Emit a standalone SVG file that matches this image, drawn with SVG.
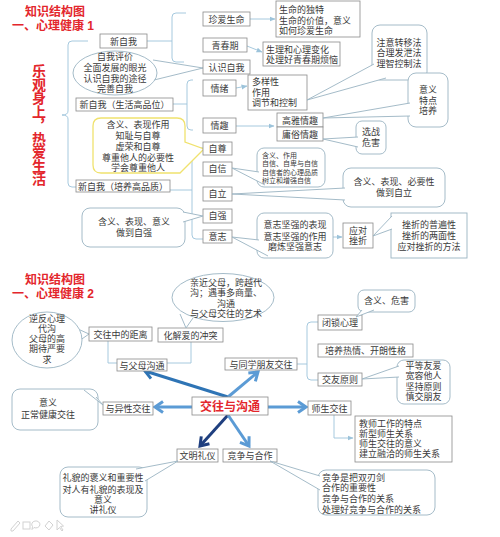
<svg xmlns="http://www.w3.org/2000/svg" width="500" height="537" viewBox="0 0 500 537">
<style>
.bg{fill:#fff}
.box{fill:#fff;stroke:#8a8a8a;stroke-width:0.8}
.call{fill:#fff;stroke:#9ab3c2;stroke-width:0.9}
.tail{fill:#fff;stroke:#9ab3c2;stroke-width:0.9;stroke-linejoin:round}
.ln{fill:none;stroke:#9cc3da;stroke-width:0.9}
.t{font-family:"Liberation Sans","Noto Sans CJK SC",sans-serif;font-size:9px;fill:#3a3a3a;text-anchor:middle}
.l{text-anchor:start}
.s7{font-size:7px}
.ttl{font-family:"Liberation Sans","Noto Sans CJK SC",sans-serif;font-size:12px;font-weight:bold;fill:#e3262c}
.big{font-family:"Noto Sans CJK SC","Noto Sans",sans-serif;font-size:14px;font-weight:bold;fill:#e3262c;writing-mode:vertical-rl;letter-spacing:-0.5px}
.ctr{font-family:"Liberation Sans","Noto Sans CJK SC",sans-serif;font-size:12px;font-weight:bold;fill:#e3262c;text-anchor:middle}
.ar1{fill:none;stroke:#2e74b5;stroke-width:3}
.ar2{fill:none;stroke:#5b9bd5;stroke-width:3}
.ar3{fill:none;stroke:#1f3f7f;stroke-width:3}
.ico{fill:none;stroke:#d2d2d2;stroke-width:1}
</style>
<defs>
<marker id="sm" markerUnits="userSpaceOnUse" markerWidth="6" markerHeight="6" viewBox="0 0 6 6" refX="5.5" refY="3" orient="auto"><path d="M0,0.5 L6,3 L0,5.5 Z" fill="#9cc3da"/></marker>
<marker id="m1" markerUnits="userSpaceOnUse" markerWidth="14" markerHeight="14" viewBox="0 0 14 14" refX="11" refY="7" orient="auto"><path d="M3,1.5 L11,7 L3,12.5" fill="none" stroke="#2e74b5" stroke-width="3"/></marker>
<marker id="m2" markerUnits="userSpaceOnUse" markerWidth="14" markerHeight="14" viewBox="0 0 14 14" refX="11" refY="7" orient="auto"><path d="M3,1.5 L11,7 L3,12.5" fill="none" stroke="#5b9bd5" stroke-width="3"/></marker>
<marker id="m3" markerUnits="userSpaceOnUse" markerWidth="14" markerHeight="14" viewBox="0 0 14 14" refX="11" refY="7" orient="auto"><path d="M3,1.5 L11,7 L3,12.5" fill="none" stroke="#1f3f7f" stroke-width="3"/></marker>
</defs>
<rect class="bg" x="0" y="0" width="500" height="537"/>

<!-- ===== Section 1 ===== -->
<g id="title1">
<text class="ttl" x="25" y="16">知识结构图</text>
<text class="ttl" x="12" y="30">一、心理健康 1</text>
</g>
<g id="theme1">
<text class="big" x="39" y="64">乐观身上，热爱生活</text>
</g>

<g id="connectors1">
<path class="ln" d="M88,41 H72 Q68,41 68,45 V111 Q68,115 62,115 Q68,115 68,119 V183 Q68,187 72,187 H76"/>
<path class="ln" d="M147,41 H172 M186,13 H176 Q172,13 172,17 V58 Q172,62 176,62 H184"/>
<path class="ln" d="M173,104 H187 M193,80 H191 Q187,80 187,84 V126 Q187,130 191,130 H193"/>
<path class="ln" d="M170,190 H192 M203,148 H196 Q192,148 192,152 V235 Q192,239 196,239 H203"/>
<line class="ln" x1="250" y1="19" x2="275" y2="19" marker-end="url(#sm)"/>
<line class="ln" x1="247" y1="46" x2="262" y2="52" marker-end="url(#sm)"/>
<line class="ln" x1="236" y1="88" x2="247" y2="86" marker-end="url(#sm)"/>
<line class="ln" x1="236" y1="126" x2="274" y2="126" marker-end="url(#sm)"/>
<line class="ln" x1="333" y1="237" x2="342" y2="237" marker-end="url(#sm)"/>
</g>

<g id="n_xinziwo"><rect class="box" x="100" y="34" width="47" height="14"/><text class="t" x="123.5" y="44.5">新自我</text></g>
<g id="n_ziwopingjia">
<polyline class="tail" points="153,60 203,68 154,80"/>
<ellipse class="call" cx="115" cy="73" rx="42" ry="22"/>
<text class="t" x="115" y="59.5">自我评价<tspan x="115" dy="11">全面发展的眼光</tspan><tspan x="115" dy="11">认识自我的途径</tspan><tspan x="115" dy="10.5">完善自我</tspan></text>
</g>
<g id="n_shenghuo"><rect class="box" x="76" y="98" width="97" height="13"/><text class="t" x="124.5" y="108">新自我（生活高品位）</text></g>
<g id="n_zunzhong">
<path d="M101,118 H177 Q185,118 185,126 V142 L204,149 L180,173 H101 Q93,173 93,165 V126 Q93,118 101,118 Z" fill="#fff" stroke="#f0e26e" stroke-width="1.3"/>
<text class="t" x="138" y="128">含义、表现作用<tspan x="138" dy="11">知耻与自尊</tspan><tspan x="138" dy="11">虚荣和自尊</tspan><tspan x="138" dy="10.5">尊重他人的必要性</tspan><tspan x="138" dy="10.5">学会尊重他人</tspan></text>
</g>
<g id="n_peiyang"><rect class="box" x="76" y="180" width="94" height="12"/><text class="t" x="123" y="189.5">新自我（培养高品质）</text></g>

<g id="n_zhenai"><rect class="box" x="203" y="12" width="47" height="14"/><text class="t" x="226.5" y="22.5">珍爱生命</text></g>
<g id="n_qingchun"><rect class="box" x="203" y="38" width="44" height="14"/><text class="t" x="225" y="48.5">青春期</text></g>
<g id="n_renshi"><rect class="box" x="203" y="60" width="47" height="14"/><text class="t" x="226.5" y="70.5">认识自我</text></g>
<g id="n_qingxu"><rect class="box" x="203" y="80" width="33" height="16"/><text class="t" x="219.5" y="91.5">情绪</text></g>
<g id="n_qingqu"><rect class="box" x="203" y="118" width="33" height="15"/><text class="t" x="219.5" y="128.5">情趣</text></g>
<g id="n_zizun"><rect class="box" x="203" y="142" width="29" height="13"/><text class="t" x="217.5" y="151.5">自尊</text></g>
<g id="n_zixin"><rect class="box" x="203" y="162" width="29" height="14"/><text class="t" x="217.5" y="172">自信</text></g>
<g id="n_zili"><rect class="box" x="203" y="187" width="29" height="14"/><text class="t" x="217.5" y="197">自立</text></g>
<g id="n_ziqiang"><rect class="box" x="203" y="209" width="29" height="14"/><text class="t" x="217.5" y="219">自强</text></g>
<g id="n_yizhi"><rect class="box" x="203" y="230" width="29" height="13"/><text class="t" x="217.5" y="239.5">意志</text></g>

<g id="n_shengming"><rect class="box" x="276" y="1" width="84" height="36"/>
<text class="t l" x="279" y="13">生命的独特<tspan x="279" dy="10.5">生命的价值，意义</tspan><tspan x="279" dy="10.5">如何珍爱生命</tspan></text></g>
<g id="n_shengli"><rect class="box" x="263" y="42" width="77" height="24"/>
<text class="t l" x="266" y="52.5">生理和心理变化<tspan x="266" dy="10.5">处理好青春期烦恼</tspan></text></g>
<g id="n_duoyang"><rect class="box" x="248" y="75" width="59" height="35"/>
<text class="t l" x="252" y="84.5">多样性<tspan x="252" dy="11">作用</tspan><tspan x="252" dy="10.5">调节和控制</tspan></text></g>
<g id="n_gaoya"><rect class="box" x="277" y="113" width="46" height="14"/><text class="t" x="300" y="123.5">高雅情趣</text></g>
<g id="n_yongsu"><rect class="box" x="277" y="127" width="46" height="14"/><text class="t" x="300" y="137.5">庸俗情趣</text></g>

<g id="n_zhuyi"><rect class="call" x="372" y="25" width="55" height="55" rx="8"/>
<polyline class="tail" points="374,64 307,100 386,78"/>
<text class="t" x="399" y="45.5">注意转移法<tspan x="399" dy="10.5">合理发泄法</tspan><tspan x="399" dy="10.5">理智控制法</tspan></text></g>
<g id="n_yiyi"><rect class="call" x="408" y="73" width="40" height="54" rx="8"/>
<polyline class="tail" points="410,103 323,118 410,116"/>
<text class="t" x="428" y="93">意义<tspan x="428" dy="10.5">特点</tspan><tspan x="428" dy="10.5">培养</tspan></text></g>
<g id="n_xuanzhan"><rect class="call" x="356" y="121" width="30" height="33" rx="6"/>
<polyline class="tail" points="358,137 323,139 358,147"/>
<text class="t" x="371" y="135">选战<tspan x="371" dy="11">危害</tspan></text></g>
<g id="n_zixin_c"><rect class="call" x="257" y="148" width="68" height="39" rx="7"/>
<polyline class="tail" points="259,172 232,168 265,185"/>
<text class="t l s7" x="262" y="157.5">含义、作用<tspan x="262" dy="8.5">自信、自卑与自信</tspan><tspan x="262" dy="8.5">自信者的心理品质</tspan><tspan x="262" dy="8.5">树立和增强自信</tspan></text></g>
<g id="n_zili_c"><rect class="call" x="343" y="168" width="102" height="39" rx="8"/>
<polyline class="tail" points="345,188 232,194 345,200"/>
<text class="t" x="394" y="185">含义、表现、必要性<tspan x="394" dy="10.5">做到自立</tspan></text></g>
<g id="n_ziqiang_c"><rect class="call" x="82" y="208" width="103" height="39" rx="8"/>
<polyline class="tail" points="183,212 203,216 183,222"/>
<text class="t" x="134" y="225">含义、表现、意义<tspan x="134" dy="11">做到自强</tspan></text></g>
<g id="n_yizhi_c"><rect class="call" x="257" y="213" width="76" height="45" rx="7"/>
<polyline class="tail" points="259,240 232,237 268,256"/>
<text class="t" x="295" y="228">意志坚强的表现<tspan x="295" dy="11.5">意志坚强的作用</tspan><tspan x="295" dy="10.5">磨炼坚强意志</tspan></text></g>
<g id="n_yingdui"><rect class="box" x="343" y="223" width="30" height="25"/>
<text class="t" x="358" y="233.5">应对<tspan x="358" dy="10.5">挫折</tspan></text></g>
<g id="n_cuozhe"><rect class="call" x="391" y="213" width="76" height="45"/>
<polyline class="tail" points="392,216 373,236 392,229"/>
<text class="t" x="429" y="228">挫折的普遍性<tspan x="429" dy="11">挫折的两面性</tspan><tspan x="429" dy="11">应对挫折的方法</tspan></text></g>

<!-- ===== Section 2 ===== -->
<g id="title2">
<text class="ttl" x="25" y="284">知识结构图</text>
<text class="ttl" x="12" y="298">一、心理健康 2</text>
</g>

<g id="connectors2">
<polyline class="ln" points="108,341 108,363 117,363"/>
<polyline class="ln" points="191,342 191,363 167,363"/>
<path class="ln" d="M297,364 H307 M318,322 H311 Q307,322 307,326 V376 Q307,380 311,380 H318"/>
<polyline class="ln" points="334,415 334,438 353,438" marker-end="url(#sm)"/>
<line class="ar1" x1="228" y1="397" x2="145" y2="371" marker-end="url(#m1)"/>
<line class="ar2" x1="228" y1="397" x2="258" y2="372" marker-end="url(#m2)"/>
<line class="ar2" x1="192" y1="407" x2="155" y2="407" marker-end="url(#m2)"/>
<line class="ar2" x1="268" y1="407" x2="306" y2="407" marker-end="url(#m2)"/>
<line class="ar3" x1="228" y1="415" x2="200" y2="446" marker-end="url(#m3)"/>
<line class="ar2" x1="228" y1="415" x2="249" y2="446" marker-end="url(#m2)"/>
</g>

<g id="n_nifan">
<polyline class="tail" points="78,329 89,334 79,341"/>
<ellipse class="call" cx="47" cy="340" rx="35" ry="28"/>
<text class="t" x="47" y="321.5">逆反心理<tspan x="47" dy="10.25">代沟</tspan><tspan x="47" dy="10.25">父母的高</tspan><tspan x="47" dy="10.25">期待严要</tspan><tspan x="47" dy="10.25">求</tspan></text>
</g>
<g id="n_juli"><rect class="box" x="89" y="327" width="63" height="14"/><text class="t" x="120.5" y="337.5">交往中的距离</text></g>
<g id="n_huajie"><rect class="box" x="158" y="328" width="65" height="14"/><text class="t" x="190.5" y="338.5">化解爱的冲突</text></g>
<g id="n_qinjin">
<polyline class="tail" points="180,314 186,328 193,318"/>
<ellipse class="call" cx="223" cy="297.5" rx="51" ry="24"/>
<text class="t" x="226" y="285.5">亲近父母，跨越代<tspan x="226" dy="10.5">沟；遇事多商量、</tspan><tspan x="226" dy="10.5">沟通</tspan><tspan x="226" dy="10.5">与父母交往的艺术</tspan></text>
</g>
<g id="n_fumu"><rect class="box" x="117" y="359" width="50" height="12"/><text class="t" x="142" y="368.5">与父母沟通</text></g>
<g id="n_tongxue"><rect class="box" x="225" y="358" width="72" height="12"/><text class="t" x="261" y="367.5">与同学朋友交往</text></g>
<g id="n_bisuo"><rect class="box" x="318" y="315" width="44" height="15"/><text class="t" x="340" y="325.5">闭锁心理</text></g>
<g id="n_reqing"><rect class="box" x="318" y="344" width="95" height="13"/><text class="t" x="365.5" y="353.5">培养热情、开朗性格</text></g>
<g id="n_jiaoyou"><rect class="box" x="318" y="373" width="44" height="13"/><text class="t" x="340" y="382.5">交友原则</text></g>
<g id="n_weihai"><rect class="call" x="358" y="290" width="57" height="22" rx="6"/>
<polyline class="tail" points="362,310 356,317 374,310"/>
<text class="t" x="386.5" y="304">含义、危害</text></g>
<g id="n_pingdeng"><rect class="call" x="397" y="360" width="53" height="44" rx="7"/>
<polyline class="tail" points="399,366 362,379 399,377"/>
<text class="t" x="423.5" y="369">平等友爱<tspan x="423.5" dy="10.25">宽容他人</tspan><tspan x="423.5" dy="10.25">坚持原则</tspan><tspan x="423.5" dy="10.25">慎交朋友</tspan></text></g>

<g id="n_center"><rect class="box" x="192" y="397" width="76" height="18"/><text class="ctr" x="230" y="410.5">交往与沟通</text></g>
<g id="n_yixing"><rect class="box" x="103" y="402" width="50" height="13"/><text class="t" x="128" y="411.5">与异性交往</text></g>
<g id="n_yixing_c"><rect class="call" x="12" y="389" width="86" height="41" rx="8"/>
<polyline class="tail" points="84,390 103,405 96,397"/>
<text class="t" x="48" y="406">意义<tspan x="48" dy="12">正常健康交往</tspan></text></g>
<g id="n_shisheng"><rect class="box" x="308" y="401" width="43" height="14"/><text class="t" x="329.5" y="411.5">师生交往</text></g>
<g id="n_jiaoshi"><rect class="box" x="355" y="416" width="97" height="46"/>
<text class="t l" x="359" y="426.5">教师工作的特点<tspan x="359" dy="10.25">新型师生关系</tspan><tspan x="359" dy="10.25">师生交往的意义</tspan><tspan x="359" dy="10.25">建立融洽的师生关系</tspan></text></g>
<g id="n_wenming"><rect class="box" x="177" y="449" width="41" height="13"/><text class="t" x="197.5" y="458.5">文明礼仪</text></g>
<g id="n_jingzheng"><rect class="box" x="223" y="449" width="54" height="13"/><text class="t" x="250" y="458.5">竞争与合作</text></g>
<g id="n_limao"><rect class="call" x="60" y="467" width="87" height="50" rx="8"/>
<polyline class="tail" points="136,469 178,461 145,481"/>
<text class="t" x="103" y="481">礼貌的褒义和重要性<tspan x="103" dy="11.5">对人有礼貌的表现及</tspan><tspan x="103" dy="10.25">意义</tspan><tspan x="103" dy="10.25">讲礼仪</tspan></text></g>
<g id="n_jz_c"><rect class="call" x="318" y="470" width="117" height="45" rx="8"/>
<polyline class="tail" points="320,476 270,461 320,490"/>
<text class="t l" x="322" y="480.5">竞争是把双刃剑<tspan x="322" dy="10.5">合作的重要性</tspan><tspan x="322" dy="11">竞争与合作的关系</tspan><tspan x="322" dy="10.5">处理好竞争与合作的关系</tspan></text></g>

<g id="toolbar">
<path class="ico" d="M11,529 L18,521 L20,523 L13,531 L11,531 Z"/>
<rect class="ico" x="23" y="522" width="7" height="7"/>
<path class="ico" d="M35,521 a4,3.5 0 1,1 -1,6.5 l-2,2 l0.5,-3 a4,3.5 0 0,1 2.5,-5.5 z"/>
<path class="ico" d="M45,526 L49,521 L53,525 L49,530 Z"/>
<path class="ico" d="M57,520 L57,530 L59.5,527.5 L62,531 L63,530 L60.5,526.5 L63.5,526 Z"/>
</g>
</svg>
